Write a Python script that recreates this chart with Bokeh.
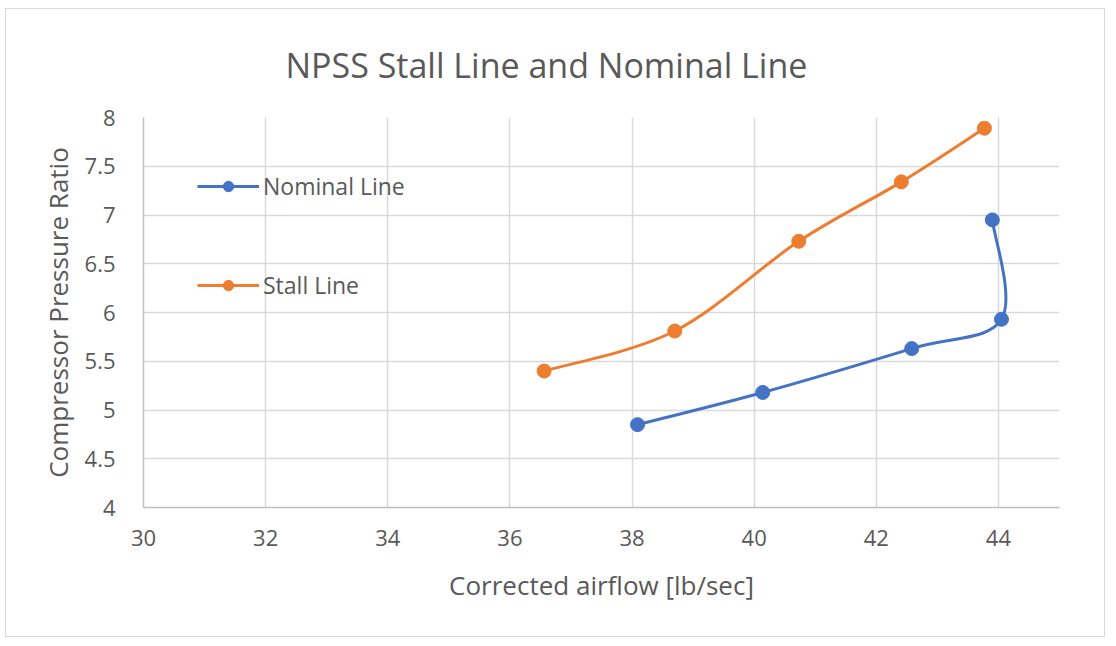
import numpy as np
from bokeh.plotting import figure
from bokeh.models import Range1d, FixedTicker, Legend, LegendItem
from bokeh.embed import file_html
from bokeh.resources import INLINE

# ---- data ----
nominal_x = [38.09, 40.14, 42.58, 44.05, 43.90]
nominal_y = [4.85, 5.18, 5.63, 5.93, 6.95]
stall_x = [36.56, 38.70, 40.73, 42.41, 43.77]
stall_y = [5.40, 5.81, 6.73, 7.34, 7.89]
x_ticks = [30, 32, 34, 36, 38, 40, 42, 44]
y_ticks = [4, 4.5, 5, 5.5, 6, 6.5, 7, 7.5, 8]

BLUE = "#4472C4"
ORANGE = "#ED7D31"
TXT = "#595959"
FONT = "Open Sans"


def smooth_segments(xs, ys):
    """Excel-like smoothing: cubic Bezier with Catmull-Rom control points."""
    x = np.asarray(xs, float)
    y = np.asarray(ys, float)
    n = len(x)
    xp = np.concatenate([[x[0]], x, [x[-1]]])
    yp = np.concatenate([[y[0]], y, [y[-1]]])
    seg = dict(x0=[], y0=[], x1=[], y1=[], cx0=[], cy0=[], cx1=[], cy1=[])
    for i in range(n - 1):
        j = i + 1
        seg["x0"].append(xp[j]); seg["y0"].append(yp[j])
        seg["x1"].append(xp[j + 1]); seg["y1"].append(yp[j + 1])
        seg["cx0"].append(xp[j] + (xp[j + 1] - xp[j - 1]) / 6)
        seg["cy0"].append(yp[j] + (yp[j + 1] - yp[j - 1]) / 6)
        seg["cx1"].append(xp[j + 1] - (xp[j + 2] - xp[j]) / 6)
        seg["cy1"].append(yp[j + 1] - (yp[j + 2] - yp[j]) / 6)
    return seg


p = figure(width=1100, height=629, output_backend="svg", toolbar_location=None,
           x_range=Range1d(30, 45), y_range=Range1d(4, 8),
           min_border_left=137, min_border_right=47, min_border_top=107,
           min_border_bottom=131)
p.styles = {"border": "1px solid #d9d9d9", "margin-left": "5px", "margin-top": "8px"}

p.title.text = "NPSS Stall Line and Nominal Line"
p.title.align = "left"
p.title.text_font = FONT
p.title.text_font_size = "34px"
p.title.text_font_style = "normal"
p.title.text_color = TXT
p.title.offset = 142
p.title.standoff = 60

p.outline_line_color = None
p.background_fill_color = "white"
p.border_fill_color = "white"

p.xgrid.ticker = FixedTicker(ticks=x_ticks)
p.ygrid.ticker = FixedTicker(ticks=y_ticks)
p.xgrid.grid_line_color = "#d9d9d9"
p.ygrid.grid_line_color = "#d9d9d9"
p.xgrid.grid_line_width = 1.5
p.ygrid.grid_line_width = 1.5

p.xaxis.ticker = FixedTicker(ticks=x_ticks)
p.yaxis.ticker = FixedTicker(ticks=y_ticks)
for ax in (p.xaxis[0], p.yaxis[0]):
    ax.axis_line_color = "#bfbfbf"
    ax.axis_line_width = 1.5
    ax.major_tick_line_color = None
    ax.minor_tick_line_color = None
    ax.major_label_text_font = FONT
    ax.major_label_text_font_size = "22px"
    ax.major_label_text_color = TXT
    ax.axis_label_text_font = FONT
    ax.axis_label_text_font_size = "26px"
    ax.axis_label_text_font_style = "normal"
    ax.axis_label_text_color = TXT

p.xaxis.axis_label = "Corrected airflow [lb/sec]"
p.yaxis.axis_label = "Compressor Pressure Ratio"
p.xaxis.major_label_standoff = 16
p.yaxis.major_label_standoff = 22
p.xaxis.axis_label_standoff = 18
p.yaxis.axis_label_standoff = 6

nom_seg = smooth_segments(nominal_x, nominal_y)
st_seg = smooth_segments(stall_x, stall_y)

p.bezier(line_color=BLUE, line_width=3, **nom_seg)
p.bezier(line_color=ORANGE, line_width=3, **st_seg)
nom_pts = p.scatter(nominal_x, nominal_y, size=14, color=BLUE)
st_pts = p.scatter(stall_x, stall_y, size=14, color=ORANGE)

# legend proxies (line + marker)
nom_line = p.line([np.nan], [np.nan], line_color=BLUE, line_width=3)
st_line = p.line([np.nan], [np.nan], line_color=ORANGE, line_width=3)

legend = Legend(items=[LegendItem(label="Nominal Line", renderers=[nom_line, nom_pts]),
                       LegendItem(label="Stall Line", renderers=[st_line, st_pts])],
                location=(54, 206), orientation="vertical",
                glyph_width=62, glyph_height=26, label_height=26,
                spacing=67, padding=0, margin=0, label_standoff=4,
                border_line_color=None, background_fill_alpha=0,
                label_text_font=FONT, label_text_font_size="23px",
                label_text_color=TXT)
p.add_layout(legend, "center")

open("out.html", "w").write(file_html(p, INLINE))
